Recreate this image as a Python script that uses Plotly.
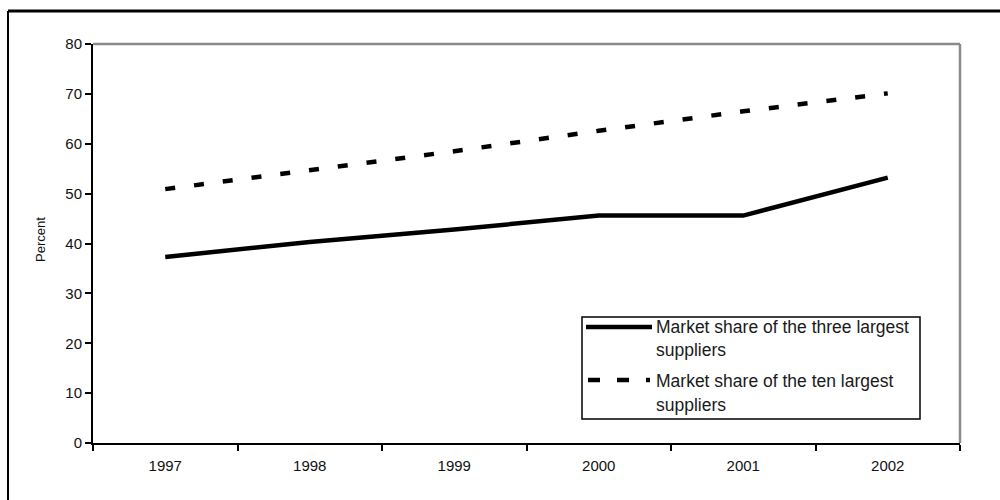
import plotly.graph_objects as go

# Market share data (percent)
years = ["1997", "1998", "1999", "2000", "2001", "2002"]
share_top3 = [37.3, 40.3, 42.8, 45.6, 45.6, 53.2]
share_top10 = [50.9, 54.6, 58.5, 62.6, 66.5, 70.1]
y_ticks = [0, 10, 20, 30, 40, 50, 60, 70, 80]
legend_lines = [
    ["Market share of the three largest", "suppliers"],
    ["Market share of the ten largest", "suppliers"],
]

W, H = 1000, 500
ML, MR, MT, MB = 93, 40, 44, 57
PW = W - ML - MR
PH = H - MT - MB
FONT = "Liberation Sans, Arial, sans-serif"
NARROW = "Liberation Sans Narrow, Arial Narrow, Liberation Sans, sans-serif"


def px(x):
    return (x - ML) / PW


def py(y):
    return (H - MB - y) / PH


fig = go.Figure()
fig.add_trace(go.Scatter(
    x=years, y=share_top3, mode="lines",
    line=dict(color="black", width=4.5),
    name=legend_lines[0][0], showlegend=False,
))
fig.add_trace(go.Scatter(
    x=years, y=share_top10, mode="lines",
    line=dict(color="black", width=4.5, dash="10px,19px"),
    name=legend_lines[1][0], showlegend=False,
))

shapes = []
# gray top/right border of the plot area
shapes.append(dict(type="line", xref="paper", yref="paper", x0=0, x1=1, y0=1, y1=1,
                   line=dict(color="#8a8a8a", width=2.5)))
shapes.append(dict(type="line", xref="paper", yref="paper", x0=1, x1=1, y0=0, y1=1,
                   line=dict(color="#8a8a8a", width=2.5)))
# outer page frame
shapes.append(dict(type="line", xref="paper", yref="paper", x0=px(8), x1=px(1005),
                   y0=py(11), y1=py(11), line=dict(color="black", width=3)))
shapes.append(dict(type="line", xref="paper", yref="paper", x0=px(8), x1=px(8),
                   y0=py(11), y1=py(505), line=dict(color="black", width=2)))
# legend box and samples
shapes.append(dict(type="rect", xref="paper", yref="paper", x0=px(582), x1=px(920),
                   y0=py(317), y1=py(419), line=dict(color="black", width=1.5),
                   fillcolor="white", layer="above"))
shapes.append(dict(type="line", xref="paper", yref="paper", x0=px(586), x1=px(652),
                   y0=py(327), y1=py(327), line=dict(color="black", width=4.5), layer="above"))
shapes.append(dict(type="line", xref="paper", yref="paper", x0=px(588), x1=px(650),
                   y0=py(380), y1=py(380), line=dict(color="black", width=4.5, dash="12px,17px"),
                   layer="above"))

annotations = []
legend_y = [[327, 350], [381, 405]]
for lines, ys in zip(legend_lines, legend_y):
    for txt, yy in zip(lines, ys):
        annotations.append(dict(
            text=txt, xref="paper", yref="paper", x=px(654), y=py(yy),
            xanchor="left", yanchor="middle", showarrow=False,
            font=dict(family=FONT, size=17.5, color="#1a1a1a"),
        ))
annotations.append(dict(
    text="Percent", xref="paper", yref="paper", x=px(40), y=py(240),
    xanchor="center", yanchor="middle", textangle=-90, showarrow=False,
    font=dict(family=FONT, size=13, color="#111"),
))

fig.update_layout(
    width=W, height=H,
    margin=dict(l=ML, r=MR, t=MT, b=MB),
    paper_bgcolor="white", plot_bgcolor="white",
    shapes=shapes, annotations=annotations,
    font=dict(family=FONT, size=13, color="#111"),
    xaxis=dict(
        type="category", range=[-0.5, 5.5], tickson="boundaries",
        showline=True, linecolor="black", linewidth=2,
        ticks="outside", ticklen=6, tickwidth=1.5, tickcolor="black",
        showgrid=False, zeroline=False, fixedrange=True,
        ticklabelstandoff=8,
        tickfont=dict(family=NARROW, size=15, color="#111"),
    ),
    yaxis=dict(
        range=[0, 80], tickvals=y_ticks,
        showline=True, linecolor="black", linewidth=2,
        ticks="outside", ticklen=6, tickwidth=1.5, tickcolor="black",
        showgrid=False, zeroline=False, fixedrange=True,
        tickfont=dict(family=FONT, size=15, color="#111"),
    ),
    showlegend=False,
)

fig.write_html("out.html", config={"displayModeBar": False})
